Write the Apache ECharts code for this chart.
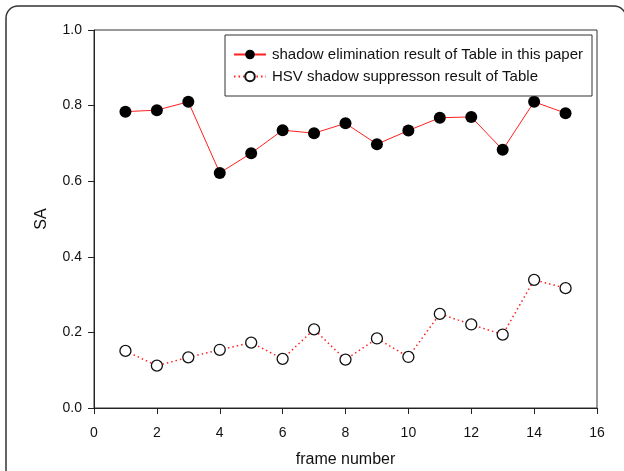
<!DOCTYPE html>
<html>
<head>
<meta charset="utf-8">
<script src="https://cdn.jsdelivr.net/npm/echarts@6/dist/echarts.min.js"></script>
<style>
  html, body { margin: 0; padding: 0; background: #fff; }
  #chart { width: 624px; height: 471px; }
</style>
</head>
<body>
<div id="chart"></div>
<script>
const frames = [1, 2, 3, 4, 5, 6, 7, 8, 9, 10, 11, 12, 13, 14, 15]
const proposedSA = [0.784, 0.788, 0.810, 0.622, 0.674, 0.735, 0.727, 0.753, 0.698, 0.734, 0.768, 0.770, 0.683, 0.810, 0.780]
const hsvSA = [0.151, 0.112, 0.134, 0.154, 0.173, 0.130, 0.208, 0.128, 0.184, 0.135, 0.249, 0.221, 0.194, 0.339, 0.317]
const seriesNames = [
  'shadow elimination result of Table in this paper',
  'HSV shadow suppresson result of Table',
]

const font = '"Liberation Sans", Arial, Helvetica, sans-serif'
const chart = echarts.init(document.getElementById('chart'))

const axisCommon = {
  axisLine: { lineStyle: { color: '#222', width: 1 } },
  axisTick: { show: true, inside: false, length: 6, lineStyle: { color: '#222' } },
  splitLine: { show: false },
  axisLabel: { color: '#111', fontSize: 14, fontFamily: font },
  nameTextStyle: { color: '#111', fontSize: 16, fontFamily: font },
}

chart.setOption({
  backgroundColor: '#fff',
  animation: false,
  graphic: [{
    type: 'rect',
    shape: { x: 6, y: 6, width: 620, height: 480, r: [12, 12, 0, 0] },
    style: { fill: 'none', stroke: '#333', lineWidth: 1.5 },
    silent: true,
  }],
  grid: {
    left: 94, right: 27, top: 30, bottom: 63,
    outerBoundsMode: 'none',
    containLabel: false,
    show: true, borderColor: '#333', borderWidth: 1,
  },
  legend: {
    orient: 'vertical',
    left: 225, top: 35,
    padding: [12, 9, 12, 8],
    itemWidth: 32, itemHeight: 12, itemGap: 7,
    backgroundColor: '#fff',
    borderColor: '#333', borderWidth: 1,
    textStyle: { color: '#111', fontSize: 15, fontFamily: font, padding: [0, 0, 0, 1] },
    data: seriesNames,
  },
  xAxis: {
    ...axisCommon,
    type: 'value',
    min: 0, max: 16, interval: 2,
    name: 'frame number',
    nameLocation: 'middle',
    nameGap: 44,
    axisLabel: { ...axisCommon.axisLabel, margin: 18 },
  },
  yAxis: {
    ...axisCommon,
    type: 'value',
    min: 0, max: 1, interval: 0.2,
    name: 'SA',
    nameLocation: 'middle',
    nameGap: 44,
    axisLabel: { ...axisCommon.axisLabel, margin: 12, formatter: v => v.toFixed(1) },
  },
  series: [
    {
      name: seriesNames[0],
      type: 'line',
      data: frames.map((f, i) => [f, proposedSA[i]]),
      symbol: 'circle',
      symbolSize: 12,
      lineStyle: { color: '#ff2020', width: 1 },
      itemStyle: { color: '#000', borderWidth: 0 },
    },
    {
      name: seriesNames[1],
      type: 'line',
      data: frames.map((f, i) => [f, hsvSA[i]]),
      symbol: 'circle',
      symbolSize: 11,
      lineStyle: { color: '#ff2020', width: 1.5, type: [1.5, 3] },
      itemStyle: { color: '#fff', borderColor: '#111', borderWidth: 1.3 },
    },
  ],
})
</script>
</body>
</html>
